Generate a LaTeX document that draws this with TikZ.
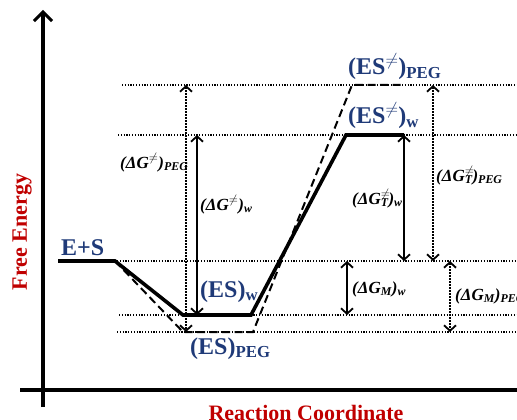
\documentclass[tikz,border=0pt]{standalone}
\usepackage{fontspec}
\setmainfont{Liberation Serif}
\usetikzlibrary{arrows.meta}
\definecolor{navy}{HTML}{1F3A78}
\definecolor{darkred}{HTML}{C00000}
\begin{document}
\begin{tikzpicture}[x=1pt,y=-1pt,
  axis/.style={line width=4pt},
  lvl/.style={line width=3.6pt},
  peg/.style={line width=2pt, dash pattern=on 8pt off 4.5pt},
  guide/.style={line width=1.2pt, dash pattern=on 1.2pt off 1.6pt},
  tip/.tip={Straight Barb[length=5.5pt,width=12pt,line width=1.8pt]},
  solidarr/.style={line width=1.8pt, tip-tip},
  dotarr/.style={line width=2pt, dash pattern=on 1.6pt off 1.4pt, tip-tip},
  lbl/.style={font=\fontsize{24}{28}\selectfont\bfseries, text=navy, inner sep=0pt},
  dlbl/.style={font=\fontsize{17}{20}\selectfont\bfseries\itshape, inner sep=0pt},
  axlbl/.style={font=\fontsize{22}{26}\selectfont\bfseries, text=darkred, inner sep=0pt}]
\useasboundingbox (0,0) rectangle (517,420);

% axes
\coordinate (yb) at (43,407);
\coordinate (yt) at (43,10);
\coordinate (xl) at (20,390);
\coordinate (xr) at (517,390);
\draw[axis, -{Straight Barb[length=9pt,width=18pt,line width=3pt]}] (yb) -- (yt);
\draw[axis] (xl) -- (xr);

% guide lines
\coordinate (g1a) at (122,85);  \coordinate (g1b) at (517,85);
\coordinate (g2a) at (118,135); \coordinate (g2b) at (517,135);
\coordinate (g3a) at (117,261); \coordinate (g3b) at (517,261);
\coordinate (g4a) at (119,315); \coordinate (g4b) at (517,315);
\coordinate (g5a) at (117,332); \coordinate (g5b) at (517,332);
\foreach \g in {1,...,5} \draw[guide] (g\g a) -- (g\g b);

% PEG (dashed) path
\coordinate (b0) at (115,261);
\coordinate (b1) at (183,332);
\coordinate (b2) at (253,332);
\coordinate (b3) at (352,85);
\coordinate (b4) at (403,85);
\draw[peg] (b0) -- (b1) -- (b2) -- (b3) -- (b4);

% water (solid) path
\coordinate (a0) at (58,261);
\coordinate (a1) at (115,261);
\coordinate (a2) at (183,315);
\coordinate (a3) at (251,315);
\coordinate (a4) at (346,135);
\coordinate (a5) at (404,135);
\draw[lvl, line join=miter] (a0) -- (a1) -- (a2) -- (a3) -- (a4) -- (a5);

% arrows
\coordinate (w1) at (197,135); \coordinate (w2) at (197,315);
\coordinate (p1) at (186,85);  \coordinate (p2) at (186,332);
\coordinate (tw1) at (404,135); \coordinate (tw2) at (404,261);
\coordinate (tp1) at (433,85);  \coordinate (tp2) at (433,261);
\coordinate (mw1) at (347,261); \coordinate (mw2) at (347,315);
\coordinate (mp1) at (450,261); \coordinate (mp2) at (450,332);
\draw[dotarr] (p1) -- (p2);
\draw[solidarr] (w1) -- (w2);
\draw[solidarr] (tw1) -- (tw2);
\draw[dotarr] (tp1) -- (tp2);
\draw[solidarr] (mw1) -- (mw2);
\draw[dotarr] (mp1) -- (mp2);

% state labels
\node[lbl, anchor=base west] (es) at (61,255) {E+S};
\node[lbl, anchor=base west] (esw) at (200,297) {(ES)\textsubscript{w}};
\node[lbl, anchor=base west] (espeg) at (190,354) {(ES)\textsubscript{PEG}};
\node[lbl, anchor=base west] (tsw) at (348,124) {(ES\textsuperscript{$\neq$})\textsubscript{w}};
\node[lbl, anchor=base west] (tspeg) at (348,75) {(ES\textsuperscript{$\neq$})\textsubscript{PEG}};

% energy labels
\node[dlbl, anchor=base west] (lgp) at (120,168) {(ΔG\textsuperscript{$\neq$})\textsubscript{PEG}};
\node[dlbl, anchor=base west] (lgw) at (200,210) {(ΔG\textsuperscript{$\neq$})\textsubscript{w}};
\node[dlbl, anchor=base west] (ltw) at (352,204) {(ΔG\rlap{\textsuperscript{$\neq$}}\textsubscript{T})\textsubscript{w}};
\node[dlbl, anchor=base west] (ltp) at (436,181) {(ΔG\rlap{\textsuperscript{$\neq$}}\textsubscript{T})\textsubscript{PEG}};
\node[dlbl, anchor=base west] (lmw) at (352,293) {(ΔG\textsubscript{M})\textsubscript{w}};
\node[dlbl, anchor=base west] (lmp) at (455,300) {(ΔG\textsubscript{M})\textsubscript{PEG}};

% axis labels
\node[axlbl, rotate=90, anchor=base] (ylab) at (27,232) {Free Energy};
\node[axlbl, anchor=base] (xlab) at (306,420) {Reaction Coordinate};
\end{tikzpicture}
\end{document}
